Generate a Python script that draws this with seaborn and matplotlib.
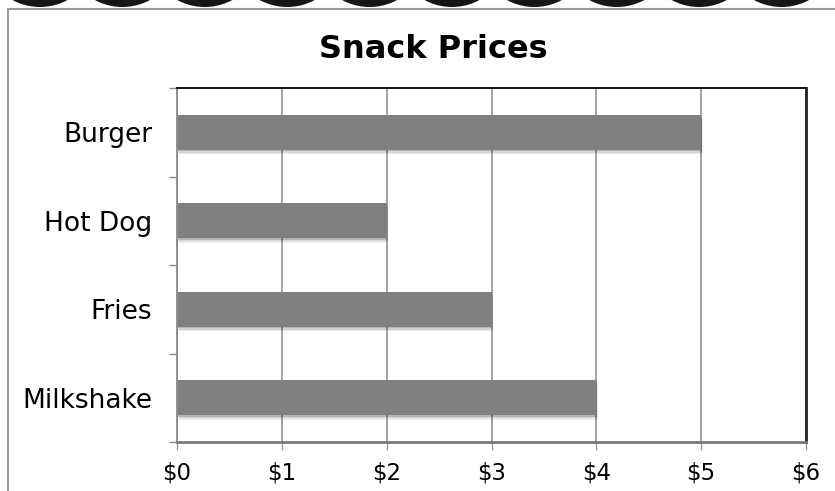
import matplotlib
matplotlib.use("Agg")
import matplotlib.pyplot as plt
import matplotlib.patheffects as pe
from matplotlib.patches import Circle
from matplotlib.lines import Line2D
from matplotlib.ticker import FixedLocator, FuncFormatter
import seaborn as sns
import pandas as pd

# Snack prices in dollars
snacks = ["Burger", "Hot Dog", "Fries", "Milkshake"]
prices = [5, 2, 3, 4]
tick_values = [0, 1, 2, 3, 4, 5, 6]

sns.set_theme(style="white")
plt.rcParams["font.family"] = ["DejaVu Sans"]

W, H = 835, 491
fig = plt.figure(figsize=(W / 100, H / 100), dpi=100)
fig.patch.set_facecolor("white")

ax = fig.add_axes([177 / W, 1 - 442 / H, (806 - 177) / W, (442 - 88) / H])

df = pd.DataFrame({"snack": snacks, "price": prices})
sns.barplot(data=df, x="price", y="snack", orient="h", color="#808080",
            saturation=1, width=0.4, ax=ax, zorder=3)

# soft drop shadow under each bar
shadow = [
    pe.SimplePatchShadow(offset=(1.2, -3.0), shadow_rgbFace="#000000", alpha=0.08),
    pe.SimplePatchShadow(offset=(0.8, -2.0), shadow_rgbFace="#000000", alpha=0.10),
    pe.SimplePatchShadow(offset=(0.4, -1.0), shadow_rgbFace="#000000", alpha=0.14),
    pe.Normal(),
]
for bar in ax.patches:
    bar.set_linewidth(0)
    bar.set_path_effects(shadow)

ax.set_xlim(0, 6)
ax.set_ylim(len(snacks) - 0.5, -0.5)
ax.set_xlabel("")
ax.set_ylabel("")

ax.xaxis.set_major_locator(FixedLocator(tick_values))
ax.xaxis.set_major_formatter(FuncFormatter(lambda v, p: f"${v:.0f}"))
ax.grid(axis="x", color="#8a8a8a", linewidth=1.1, zorder=0)
ax.grid(axis="y", visible=False)
ax.set_axisbelow(True)

# category labels at centres, tick marks at category boundaries
ax.yaxis.set_minor_locator(FixedLocator([-0.5, 0.5, 1.5, 2.5, 3.5]))
ax.tick_params(axis="y", which="major", length=0, pad=18, labelsize=19, labelcolor="black")
ax.tick_params(axis="y", which="minor", left=True, length=6, width=1, color="#888888")
ax.tick_params(axis="x", which="major", bottom=True, length=6, width=1, color="#999999",
               pad=8, labelsize=16.5, labelcolor="black")

ax.spines["left"].set_color("#8a8a8a")
ax.spines["left"].set_linewidth(1.3)
ax.spines["bottom"].set_color("#7a7a7a")
ax.spines["bottom"].set_linewidth(2)
ax.spines["top"].set_color("#111111")
ax.spines["top"].set_linewidth(1.4)
ax.spines["right"].set_color("#222222")
ax.spines["right"].set_linewidth(2)
for s in ax.spines.values():
    s.set_visible(True)
    s.set_zorder(4)

fig.text(433 / W, 1 - 49 / H, "Snack Prices", ha="center", va="center",
         fontsize=23, fontweight="bold", color="black")

# outer frame
fig.add_artist(Line2D([8 / W, 8 / W], [0, 1 - 9 / H], color="#999999", linewidth=1.5))
fig.add_artist(Line2D([8 / W, 1], [1 - 9 / H, 1 - 9 / H], color="#999999", linewidth=1.5))

# decorative scalloped edge
r = 58
for i in range(10):
    cx = 40 + 82.4 * i
    fig.add_artist(Circle((cx / 100, (H + r - 7) / 100), r / 100,
                          transform=fig.dpi_scale_trans, facecolor="#161616",
                          edgecolor="none"))

fig.savefig("out.png", dpi=100)
